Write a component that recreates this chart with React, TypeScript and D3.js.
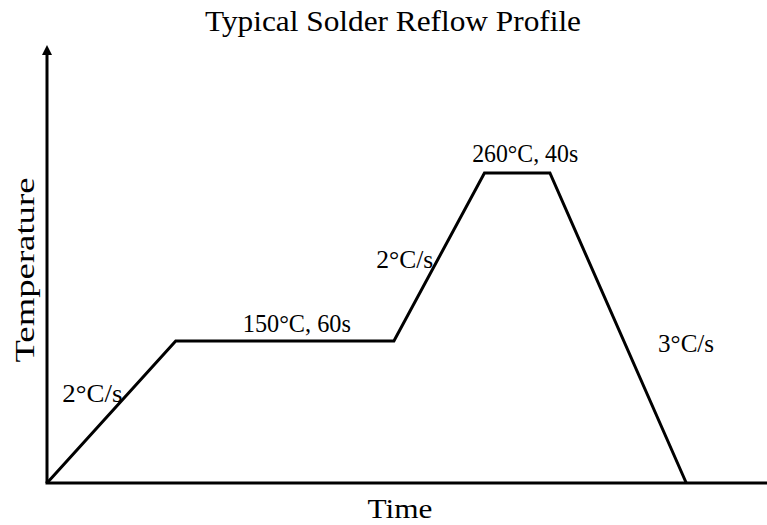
import React, { useEffect, useRef } from "react";
import * as d3 from "d3";

const width = 767;
const height = 525;

// profile (time in s, temperature in °C)
const timeSec = [0, 59, 159, 200.5, 230.5, 293];
const tempC = [57, 150, 150, 260, 260, 57];

// one label per segment
const segmentLabels = ["2°C/s", "150°C, 60s", "2°C/s", "260°C, 40s", "3°C/s"];
const labelAnchors = ["end", "middle", "end", "middle", "start"];

const title = "Typical Solder Reflow Profile";
const xTitle = "Time";
const yTitle = "Temperature";

const font = "'Liberation Serif', serif";

export default function App() {
  const ref = useRef<SVGSVGElement>(null);

  useEffect(() => {
    document.body.style.margin = "0";
    const svg = d3.select(ref.current);
    svg.selectAll("*").remove();

    const x = d3.scaleLinear().domain([0, 330]).range([47, 767]);
    const y = d3.scaleLinear().domain([57, 260]).range([483, 173]);

    // arrow marker for the y axis
    svg
      .append("defs")
      .append("marker")
      .attr("id", "arrow")
      .attr("viewBox", "0 0 10 10")
      .attr("refX", 5)
      .attr("refY", 5)
      .attr("markerWidth", 10)
      .attr("markerHeight", 12)
      .attr("markerUnits", "userSpaceOnUse")
      .attr("orient", "auto")
      .append("path")
      .attr("d", "M0,10 L5,0 L10,10 Z")
      .attr("transform", "rotate(90 5 5)")
      .attr("fill", "#000");

    // axes
    svg
      .append("line")
      .attr("x1", x(0))
      .attr("x2", x(0))
      .attr("y1", y(57))
      .attr("y2", 50)
      .attr("stroke", "#000")
      .attr("stroke-width", 3)
      .attr("marker-end", "url(#arrow)");

    svg
      .append("line")
      .attr("x1", x(0) - 1.5)
      .attr("x2", width)
      .attr("y1", y(57))
      .attr("y2", y(57))
      .attr("stroke", "#000")
      .attr("stroke-width", 3);

    const pts: [number, number][] = timeSec.map((t, i) => [t, tempC[i]]);
    const line = d3
      .line<[number, number]>()
      .x((d) => x(d[0]))
      .y((d) => y(d[1]));

    svg
      .append("path")
      .datum(pts)
      .attr("d", line)
      .attr("fill", "none")
      .attr("stroke", "#000")
      .attr("stroke-width", 3)
      .attr("stroke-linejoin", "miter");

    // labels placed off each segment's midpoint (dx, dy, text length)
    const offs = [
      [11, -10, 60],
      [12, -9, 108],
      [-6, 11, 57],
      [8, -11, 106],
      [40, 24, 56],
    ];
    svg
      .selectAll(".seg")
      .data(segmentLabels)
      .enter()
      .append("text")
      .attr("class", "seg")
      .attr("x", (d, i) => (x(timeSec[i]) + x(timeSec[i + 1])) / 2 + offs[i][0])
      .attr("y", (d, i) => (y(tempC[i]) + y(tempC[i + 1])) / 2 + offs[i][1])
      .attr("text-anchor", (d, i) => labelAnchors[i])
      .attr("textLength", (d, i) => offs[i][2])
      .attr("lengthAdjust", "spacingAndGlyphs")
      .attr("font-family", font)
      .attr("font-size", 25)
      .text((d) => d);

    svg
      .append("text")
      .attr("x", 393)
      .attr("y", 31)
      .attr("text-anchor", "middle")
      .attr("textLength", 376)
      .attr("lengthAdjust", "spacingAndGlyphs")
      .attr("font-family", font)
      .attr("font-size", 30)
      .text(title);

    svg
      .append("text")
      .attr("x", 400)
      .attr("y", 518)
      .attr("text-anchor", "middle")
      .attr("textLength", 65)
      .attr("lengthAdjust", "spacingAndGlyphs")
      .attr("font-family", font)
      .attr("font-size", 28)
      .text(xTitle);

    svg
      .append("text")
      .attr("transform", "translate(34,270) rotate(-90)")
      .attr("text-anchor", "middle")
      .attr("textLength", 185)
      .attr("lengthAdjust", "spacingAndGlyphs")
      .attr("font-family", font)
      .attr("font-size", 28)
      .text(yTitle);
  }, []);

  return <svg ref={ref} width={width} height={height} style={{ display: "block", background: "#fff" }} />;
}
